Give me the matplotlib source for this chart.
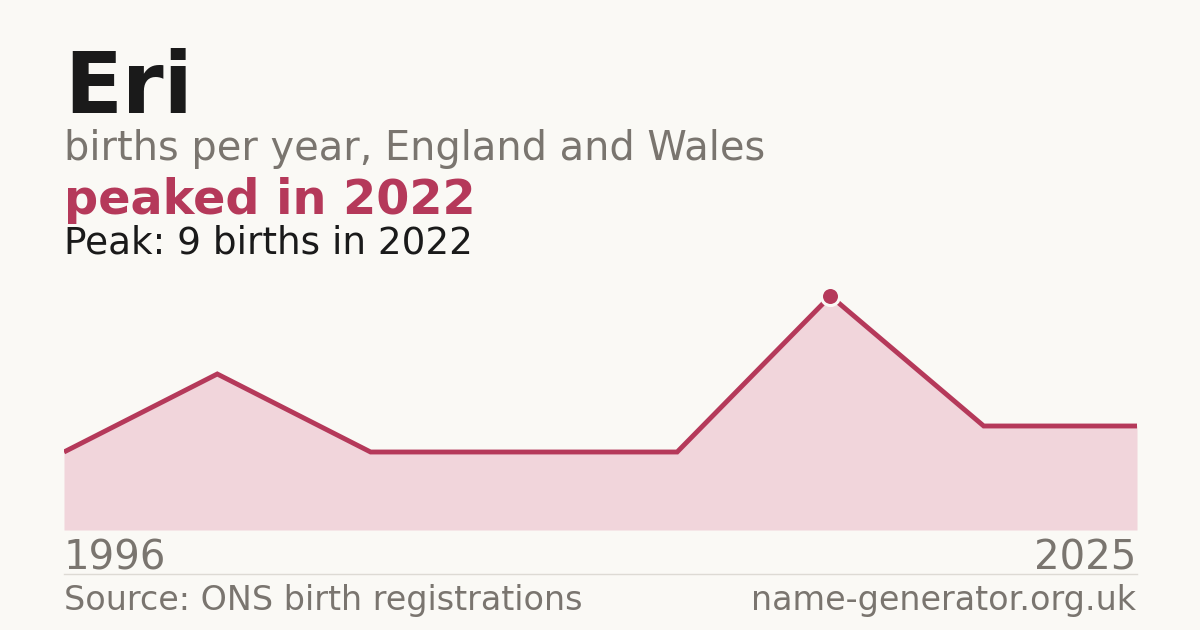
import numpy as np
import matplotlib.pyplot as plt

plt.rcParams['font.family'] = ['DejaVu Sans']

# data (births per registered year, evenly spaced points)
years = [1996, 2003, 2008, 2013, 2018, 2022, 2024, 2025]
births = [3, 6, 3, 3, 3, 9, 4, 4]
peak_year = 2022
peak_births = 9

BG = '#faf9f5'
ACCENT = '#b5395a'
FILL = '#f1d5db'
GREY = '#7a756f'
DARK = '#1a1a1a'

W, H = 1200, 630

def fx(px):
    return px / W

def fy(py):
    return 1 - py / H

fig = plt.figure(figsize=(12, 6.3), dpi=100, facecolor=BG)

ax = fig.add_axes([fx(64), fy(530), fx(1137) - fx(64), fy(270) - fy(530)])
ax.set_facecolor(BG)
x = np.arange(len(births))
ax.fill_between(x, births, 0, color=FILL, lw=0)
ax.plot(x, births, color=ACCENT, lw=3.5, solid_joinstyle='miter',
        solid_capstyle='butt')
i_peak = years.index(peak_year)
ax.plot(x[i_peak], births[i_peak], 'o', ms=13, color=ACCENT,
        mec=BG, mew=2.2, clip_on=False, zorder=5)
ax.set_xlim(x[0], x[-1])
ax.set_ylim(0, 10)
ax.axis('off')

# header
fig.text(fx(64), fy(113), "Eri", fontsize=61, fontweight='bold', color=DARK, va='baseline')
fig.text(fx(64), fy(160), "births per year, England and Wales", fontsize=28.7, color=GREY, va='baseline')
fig.text(fx(64), fy(214), f"peaked in {peak_year}", fontsize=34.4, fontweight='bold', color=ACCENT, va='baseline')
fig.text(fx(64), fy(253), f"Peak: {peak_births} births in {peak_year}", fontsize=26.9, color=DARK, va='baseline')

# axis labels
fig.text(fx(64), fy(570), str(years[0]), fontsize=29, color=GREY, va='baseline')
fig.text(fx(1136), fy(570), str(years[-1]), fontsize=29, color=GREY, va='baseline', ha='right')

fig.add_artist(plt.Line2D([fx(64), fx(1137)], [fy(574), fy(574)], color='#dddad4', lw=1))

# footer
fig.text(fx(64), fy(610), "Source: ONS birth registrations", fontsize=24, color=GREY, va='baseline')
fig.text(fx(1136), fy(610), "name-generator.org.uk", fontsize=24, color=GREY, va='baseline', ha='right')

fig.savefig('out.png', dpi=100, facecolor=BG)
